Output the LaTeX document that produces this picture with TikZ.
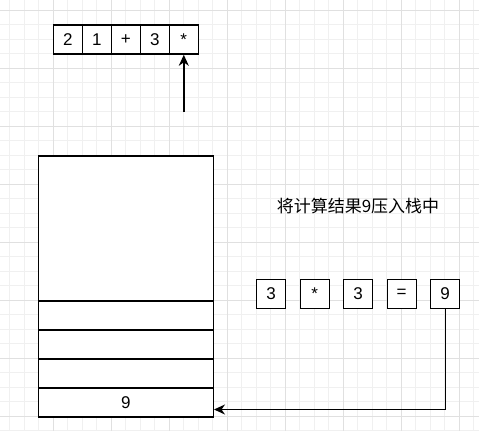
\documentclass[tikz,border=0pt]{standalone}
\usepackage{fontspec}
\setmainfont{Liberation Sans}
\newfontfamily\cjk{Noto Sans CJK SC}
\usepackage{tikz}
\usetikzlibrary{arrows.meta}

\definecolor{gridlo}{HTML}{F0F0F0}
\definecolor{gridhi}{HTML}{E0E0E0}

\tikzset{
	cell/.style={draw, line width=1.4pt, fill=white, minimum width=29pt, minimum height=29pt, inner sep=0pt, font=\fontsize{17}{20}\selectfont},
	stackcell/.style={draw, line width=1.4pt, fill=white, minimum width=175pt, minimum height=29pt, inner sep=0pt, font=\fontsize{17}{20}\selectfont},
	gridminor/.style={gridlo, line width=0.8pt},
	gridmajor/.style={gridhi, line width=1pt},
	pointer/.style={-{Stealth[length=11pt, width=10pt, inset=3.5pt]}, line width=1.4pt}
}

\begin{document}
\begin{tikzpicture}[x=1pt, y=-1pt]
				\useasboundingbox[fill=white] (0,0) rectangle (479,431);
				\begin{scope}
					% griglia
					\foreach \i in {1,...,33} \draw[gridminor] ({-4.7+14.5*\i},0) -- ({-4.7+14.5*\i},431);
					\foreach \i in {0,...,29} \draw[gridminor] (0,{10.3+14.5*\i}) -- (479,{10.3+14.5*\i});
					\foreach \i in {1,...,8} \draw[gridmajor] ({-4.7+58*\i},0) -- ({-4.7+58*\i},431);
					\foreach \i in {0,...,7} \draw[gridmajor] (0,{10.3+58*\i}) -- (479,{10.3+58*\i});
				\end{scope}

				\begin{scope}
					% espressione
					\node[cell] (t1) at (67.8,39.6) {2};
					\node[cell] (t2) at (96.8,39.6) {1};
					\node[cell] (t3) at (125.8,39.6) {+};
					\node[cell] (t4) at (154.8,39.6) {3};
					\node[cell] (t5) at (183.8,39.6) {*};
					\coordinate (scan) at (183.8,112);
					\draw[pointer] (scan) -- (t5.south);

					% pila
					\node[stackcell, minimum height=145pt] (top) at (125.8,228.5) {};
					\node[stackcell] (s4) at (125.8,315.5) {};
					\node[stackcell] (s3) at (125.8,344.5) {};
					\node[stackcell] (s2) at (125.8,373.5) {};
					\node[stackcell] (s1) at (125.8,402.5) {9};

					\node[font=\cjk\fontsize{17}{20}\selectfont] (msg) at (358,206) {将计算结果9压入栈中};

					% calcolo
					\node[cell] (r1) at (271.2,293.8) {3};
					\node[cell] (r2) at (314.7,293.8) {*};
					\node[cell] (r3) at (358.2,293.8) {3};
					\node[cell] (r4) at (401.7,293.8) {=};
					\node[cell] (r5) at (445.2,293.8) {9};
					\coordinate (turn) at (445.2,409.5);
					\draw[pointer] (r5.south) -- (turn) -- (s1.east |- turn); % da 9 alla pila
				\end{scope}
			\end{tikzpicture}
\end{document}
